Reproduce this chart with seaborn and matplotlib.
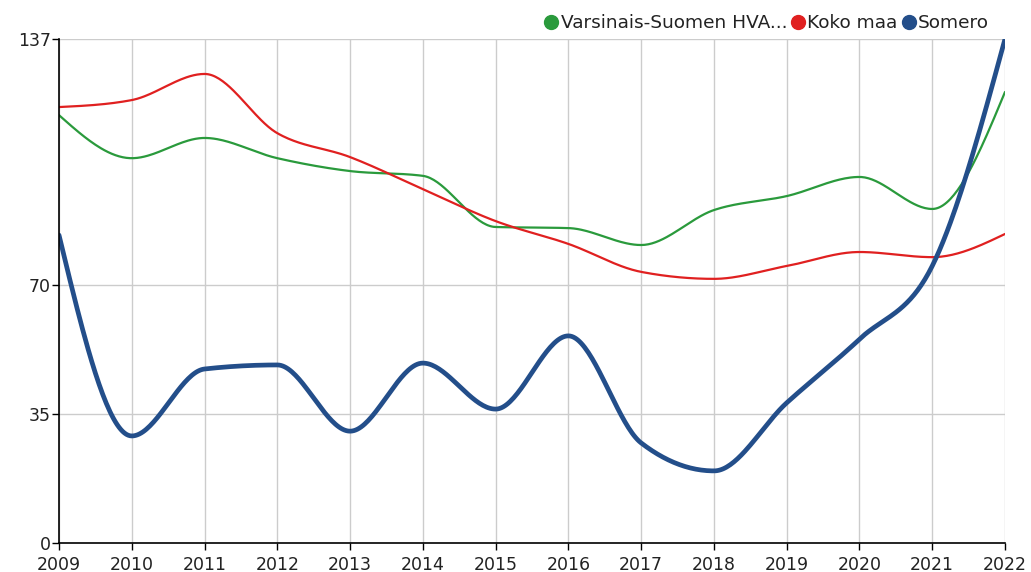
import numpy as np
import pandas as pd
import matplotlib
matplotlib.use("Agg")
import matplotlib.pyplot as plt
from matplotlib.lines import Line2D
import seaborn as sns

years = [2009, 2010, 2011, 2012, 2013, 2014, 2015, 2016, 2017, 2018, 2019, 2020, 2021, 2022]
varsinais = [116.3, 104.6, 110.1, 104.6, 101.1, 99.8, 85.9, 85.6, 81.0, 90.5, 94.3, 99.5, 90.8, 122.6]
koko_maa = [118.5, 120.4, 127.5, 111.4, 104.9, 96.2, 87.5, 81.3, 73.7, 71.8, 75.3, 79.1, 77.7, 84.0]
somero = [83.7, 29.1, 47.3, 48.4, 30.4, 48.9, 36.4, 56.3, 27.2, 19.6, 38.1, 55.4, 75.3, 137.0]

series_names = ["Varsinais-Suomen HVA...", "Koko maa", "Somero"]
colors = ["#2a9a3c", "#e02020", "#234e8a"]
widths = [1.6, 1.6, 3.4]
y_ticks = [0, 35, 70, 137]


def monotone_x(x, y, n=40):
    """d3 curveMonotoneX style cubic Hermite smoothing for drawing."""
    x = np.asarray(x, float)
    y = np.asarray(y, float)
    k = len(x)
    h = np.diff(x)
    s = np.diff(y) / h
    m = np.zeros(k)
    for i in range(1, k - 1):
        s0, s1 = s[i - 1], s[i]
        p = (s0 * h[i] + s1 * h[i - 1]) / (h[i - 1] + h[i])
        m[i] = (np.sign(s0) + np.sign(s1)) * min(abs(s0), abs(s1), 0.5 * abs(p))
    m[0] = (3 * s[0] - m[1]) / 2
    m[-1] = (3 * s[-1] - m[-2]) / 2
    xs, ys = [], []
    for i in range(k - 1):
        t = np.linspace(0, 1, n, endpoint=False)
        h00 = 2 * t**3 - 3 * t**2 + 1
        h10 = t**3 - 2 * t**2 + t
        h01 = -2 * t**3 + 3 * t**2
        h11 = t**3 - t**2
        ys.append(h00 * y[i] + h10 * h[i] * m[i] + h01 * y[i + 1] + h11 * h[i] * m[i + 1])
        xs.append(x[i] + t * h[i])
    xs.append([x[-1]])
    ys.append([y[-1]])
    return np.concatenate(xs), np.concatenate(ys)


sns.set_theme(style="white")
plt.rcParams["font.family"] = ["DejaVu Sans"]

fig = plt.figure(figsize=(10.31, 5.72), dpi=100)
ax = fig.add_axes([59 / 1031, 29 / 572, 946 / 1031, 504 / 572])

for name, vals, c, lw in zip(series_names, [varsinais, koko_maa, somero], colors, widths):
    sx, sy = monotone_x(years, vals)
    df = pd.DataFrame({"year": sx, "value": sy})
    sns.lineplot(data=df, x="year", y="value", ax=ax, color=c, linewidth=lw,
                 sort=False, estimator=None, solid_capstyle="round")

ax.set_xlim(years[0], years[-1])
ax.set_ylim(0, 137)
ax.set_xticks(years)
ax.set_yticks(y_ticks)
ax.set_xticklabels([str(y) for y in years])
ax.set_yticklabels([str(v) for v in y_ticks])
ax.set_xlabel("")
ax.set_ylabel("")
ax.grid(True, color="#cccccc", linewidth=1)
ax.set_axisbelow(True)
for s in ["top", "right"]:
    ax.spines[s].set_visible(False)
for s in ["left", "bottom"]:
    ax.spines[s].set_color("black")
    ax.spines[s].set_linewidth(1.2)
ax.tick_params(axis="both", which="both", length=5, width=1, color="black",
               labelsize=12.5, labelcolor="#222222", direction="out",
               bottom=True, left=True)
ax.tick_params(axis="y", pad=1)
ax.tick_params(axis="x", pad=4)

handles = [Line2D([0], [0], marker="o", linestyle="", markersize=10,
                  markerfacecolor=c, markeredgecolor=c) for c in colors]
leg = fig.legend(handles, series_names, ncol=3, loc="center right",
                 bbox_to_anchor=(989 / 1031, 1 - 23 / 572),
                 bbox_transform=fig.transFigure, frameon=False, fontsize=13.3,
                 handletextpad=0.0, columnspacing=0.1, borderaxespad=0.0,
                 handlelength=1.0, borderpad=0.0)
for t in leg.get_texts():
    t.set_color("#222222")

fig.savefig("out.png", dpi=100, facecolor="white")
